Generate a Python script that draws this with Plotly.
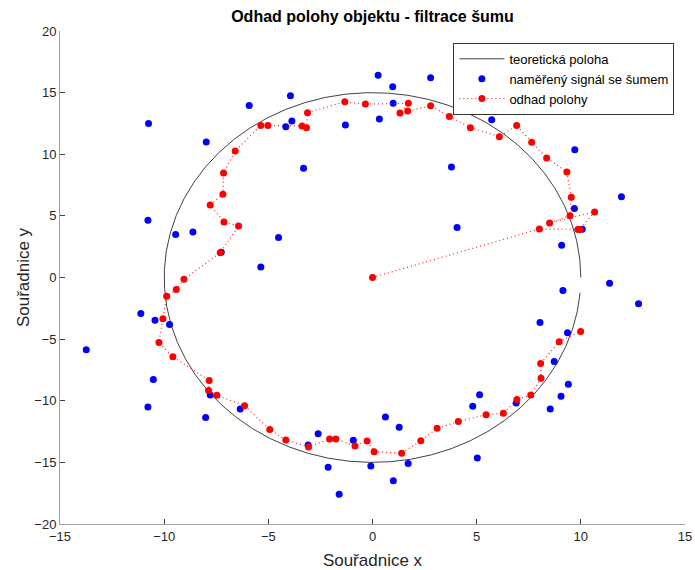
import numpy as np
import plotly.graph_objects as go

# Theoretical trajectory parameters (ellipse, t = 0:0.1:6.2)
semi_x = 10.0
semi_y = 15.0
t_start, t_step, t_end = 0.0, 0.1, 6.2

# Measured (noisy) signal
meas_x = [0.27, -3.94, -5.92, -10.75, -7.98, -3.87, -4.16, -1.30, 0.33, -3.31,
          -10.78, -9.45, -8.62, -4.51, -7.26, -5.36, 0.97, 2.79, 0.99, 5.73,
          5.72, 8.77, 3.79, 9.71, 4.06, 11.95, 9.69, 10.07, 9.08, 11.38,
          9.14, -11.12, -10.44, -9.74, -13.74, -10.52, -10.78, -7.79, -8.01, -6.35,
          -2.61, -3.09, -2.13, -1.60, -0.92, -0.08, 12.77, 8.04, 9.36, 8.72,
          9.40, 9.05, 8.53, 6.90, 5.14, 4.81, 0.62, 1.28, 5.03, 1.71, 1.00]
meas_y = [16.40, 14.75, 13.96, 12.50, 11.00, 12.70, 12.24, 12.37, 12.86, 8.86,
          4.65, 3.48, 3.70, 3.24, 2.05, 0.86, 15.48, 16.20, 14.13, 14.34,
          12.80, 13.94, 8.97, 10.37, 4.05, 6.56, 5.59, 3.91, 2.62, -0.46,
          -1.05, -2.92, -3.46, -3.81, -5.86, -8.27, -10.51, -9.54, -11.35, -10.67,
          -12.67, -13.59, -15.40, -17.58, -13.21, -15.29, -2.13, -3.65, -4.49, -6.81,
          -8.67, -9.64, -10.67, -10.18, -9.51, -10.45, -11.32, -12.16, -14.64, -15.10, -16.50]

# Position estimate (filter output)
est_x = [0.00, 8.01, 9.86, 9.95, 10.66, 8.50, 9.48, 9.54, 9.33, 8.36,
         7.64, 6.92, 6.09, 4.70, 3.69, 2.79, 1.69, 1.32, 1.72, -0.34,
         -1.33, -3.12, -3.17, -3.38, -5.02, -5.36, -6.59, -7.15, -7.18, -7.79,
         -7.13, -6.43, -7.31, -9.05, -9.42, -9.88, -10.06, -10.25, -9.58, -7.84,
         -7.87, -7.47, -6.14, -4.93, -4.16, -3.07, -2.06, -1.76, -0.84, -0.26,
         0.08, 1.40, 2.32, 3.10, 4.12, 5.45, 6.28, 6.93, 7.60, 8.09,
         8.07, 8.96, 9.99]
est_y = [0.00, 3.94, 3.90, 3.90, 5.32, 4.43, 5.02, 6.51, 8.56, 9.70,
         10.97, 12.34, 11.43, 12.16, 13.07, 13.94, 13.50, 13.34, 14.13, 14.07,
         14.26, 13.37, 12.16, 12.29, 12.34, 12.34, 10.27, 8.48, 6.75, 5.88,
         4.51, 4.17, 2.00, -0.14, -0.98, -1.52, -3.35, -5.27, -6.43, -8.35,
         -9.16, -9.56, -10.40, -12.34, -13.18, -13.75, -13.10, -13.10, -13.67, -13.27,
         -14.13, -14.26, -13.24, -12.24, -11.69, -11.13, -11.02, -9.89, -9.54, -8.18,
         -6.97, -5.21, -4.38]

x_ticks = [-15, -10, -5, 0, 5, 10, 15]
y_ticks = [-20, -15, -10, -5, 0, 5, 10, 15, 20]

t = np.arange(t_start, t_end + t_step / 2, t_step)
theo_x = semi_x * np.cos(t)
theo_y = semi_y * np.sin(t)

FONT = "Liberation Sans, Arial, Helvetica, sans-serif"

fig = go.Figure()
fig.add_trace(go.Scatter(x=theo_x, y=theo_y, mode="lines",
                         line=dict(color="#2b2b2b", width=0.9),
                         name="teoretická poloha"))
fig.add_trace(go.Scatter(x=meas_x, y=meas_y, mode="markers",
                         marker=dict(color="#0000ff", size=7, line=dict(width=0)),
                         name="naměřený signál se šumem"))
fig.add_trace(go.Scatter(x=est_x, y=est_y, mode="lines+markers",
                         line=dict(color="#ff2020", width=1.2, dash="1px,3px"),
                         marker=dict(color="#ff0000", size=7, line=dict(width=0)),
                         name="odhad polohy"))

axis_common = dict(showgrid=False, zeroline=False, showline=True,
                   linecolor="#a0a0a0", linewidth=1, mirror=False,
                   ticks="inside", ticklen=5, tickcolor="#404040", tickwidth=1,
                   automargin=False,
                   tickfont=dict(family=FONT, size=13, color="#262626"))

fig.update_layout(
    width=695, height=570,
    margin=dict(l=60, r=9.5, t=30.5, b=46, autoexpand=False),
    plot_bgcolor="white", paper_bgcolor="white",
    title=dict(text="<b>Odhad polohy objektu - filtrace šumu</b>",
               font=dict(family=FONT, size=16, color="black"),
               xref="paper", x=0.5, xanchor="center",
               yref="container", y=1 - 16 / 570, yanchor="middle"),
    xaxis=dict(range=[-15, 15], tickvals=x_ticks,
               title=dict(text="Souřadnice x", font=dict(family=FONT, size=17, color="#262626"),
                          standoff=12),
               **axis_common),
    yaxis=dict(range=[-20, 20], tickvals=y_ticks,
               title=dict(text="Souřadnice y", font=dict(family=FONT, size=17, color="#262626"),
                          standoff=0),
               **axis_common),
    legend=dict(x=0.983, y=0.976, xanchor="right", yanchor="top",
                bgcolor="white", bordercolor="#333333", borderwidth=1,
                font=dict(family=FONT, size=13, color="black"),
                tracegroupgap=0, itemwidth=45),
    showlegend=True,
)

fig.write_html("out.html",
               config={"displayModeBar": False},
               post_script="document.body.style.margin='0px';document.body.style.overflow='hidden';")
